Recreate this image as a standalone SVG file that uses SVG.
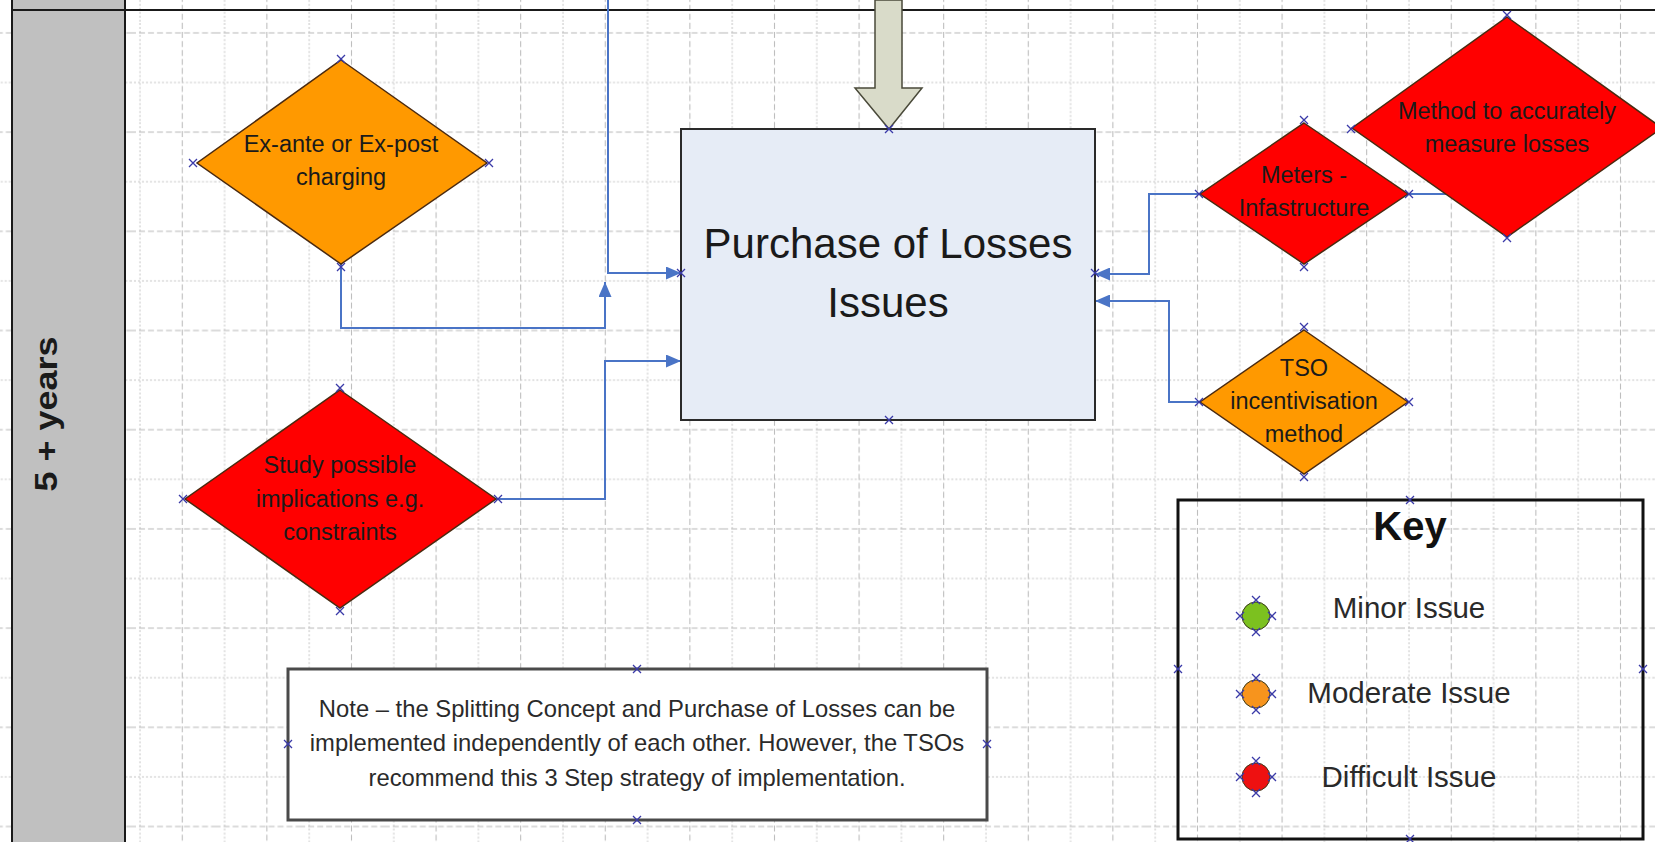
<svg xmlns="http://www.w3.org/2000/svg" xmlns:xlink="http://www.w3.org/1999/xlink" width="1655" height="842" viewBox="0 0 1655 842">
<style>
text{font-family:"Liberation Sans",Arial,sans-serif;}
.dt{font-size:23.5px;fill:#1a1a1a;text-anchor:middle;}
.nt{font-size:23.8px;fill:#2a2a2a;text-anchor:middle;}
.kt{font-size:29.5px;fill:#2a2a2a;text-anchor:middle;}
.dia{stroke:#4a2a10;stroke-width:1.5;}
.or{fill:#ff9900;}
.rd{fill:#ff0000;}
.con{fill:none;stroke:#4a74c6;stroke-width:2;}
.gx{fill:none;stroke:#3a3aa8;stroke-width:1.3;}
</style>
<defs>
<pattern id="grid" patternUnits="userSpaceOnUse" x="130" y="23" width="84.6" height="99.2">
<line x1="10" y1="0" x2="10" y2="99.2" stroke="#c4c4c4" stroke-width="1" stroke-dasharray="2 2"/>
<line x1="52.3" y1="0" x2="52.3" y2="99.2" stroke="#b8b8b8" stroke-width="1" stroke-dasharray="6 3"/>
<line x1="0" y1="10" x2="84.6" y2="10" stroke="#b8b8b8" stroke-width="1" stroke-dasharray="6 3"/>
<line x1="0" y1="59.6" x2="84.6" y2="59.6" stroke="#c4c4c4" stroke-width="1" stroke-dasharray="2 2"/>
</pattern>
<marker id="ah" markerUnits="userSpaceOnUse" markerWidth="15" markerHeight="13" refX="15" refY="6.5" orient="auto">
<path d="M0,0 L15,6.5 L0,13 z" fill="#4a74c6"/>
</marker>
<path id="x" d="M-4,-4 L4,4 M-4,4 L4,-4" class="gx"/>
</defs>
<rect width="1655" height="842" fill="#ffffff"/>
<rect width="1655" height="842" fill="url(#grid)"/>

<g id="lane">
<rect x="12" y="-5" width="113" height="852" fill="#c0c0c0" stroke="#1a1a1a" stroke-width="2"/>
<line x1="12" y1="10" x2="1655" y2="10" stroke="#1a1a1a" stroke-width="2"/>
<text transform="translate(57,414) rotate(-90)" text-anchor="middle" font-size="31" font-weight="bold" fill="#1a1a1a" textLength="155" lengthAdjust="spacingAndGlyphs">5 + years</text>
</g>

<g id="connectors">
<path class="con" d="M608,0 V273 H681" marker-end="url(#ah)"/>
<path class="con" d="M341,263 V328 H605 V282" marker-end="url(#ah)"/>
<path class="con" d="M496,499 H605 V361 H681" marker-end="url(#ah)"/>
<path class="con" d="M1200,194 H1149 V274 H1095" marker-end="url(#ah)"/>
<path class="con" d="M1200,402 H1169 V301 H1095" marker-end="url(#ah)"/>
<path class="con" d="M1408,194 H1446"/>
</g>

<g id="big-arrow">
<polygon points="875,0 902,0 902,88 922,88 889,129 855,88 875,88" fill="#d9dbc9" stroke="#4a4a3a" stroke-width="1.5"/>
</g>

<g id="purchase">
<rect x="681" y="129" width="414" height="291" fill="#e6ecf6" stroke="#2a2a2a" stroke-width="2"/>
<text x="888" y="258" text-anchor="middle" font-size="42" fill="#1a1a1a">Purchase of Losses</text>
<text x="888" y="317" text-anchor="middle" font-size="42" fill="#1a1a1a">Issues</text>
<use xlink:href="#x" x="889" y="129"/><use xlink:href="#x" x="889" y="420"/>
<use xlink:href="#x" x="681" y="273"/><use xlink:href="#x" x="1095" y="273"/>
</g>

<g id="exante">
<polygon class="dia or" points="341,60 487,163 341,264 197,163"/>
<text class="dt" x="341" y="152">Ex-ante or Ex-post</text>
<text class="dt" x="341" y="185">charging</text>
<use xlink:href="#x" x="341" y="59"/><use xlink:href="#x" x="193" y="163"/>
<use xlink:href="#x" x="489" y="163"/><use xlink:href="#x" x="341" y="267"/>
</g>

<g id="study">
<polygon class="dia rd" points="340,390 496,499 340,608 185,499"/>
<text class="dt" x="340" y="473">Study possible</text>
<text class="dt" x="340" y="507">implications e.g.</text>
<text class="dt" x="340" y="540">constraints</text>
<use xlink:href="#x" x="340" y="388"/><use xlink:href="#x" x="183" y="499"/>
<use xlink:href="#x" x="498" y="499"/><use xlink:href="#x" x="340" y="611"/>
</g>

<g id="meters">
<polygon class="dia rd" points="1304,123 1408,194 1304,264 1200,194"/>
<text class="dt" x="1304" y="183">Meters -</text>
<text class="dt" x="1304" y="216">Infastructure</text>
<use xlink:href="#x" x="1304" y="120"/><use xlink:href="#x" x="1199" y="194"/>
<use xlink:href="#x" x="1409" y="194"/><use xlink:href="#x" x="1304" y="267"/>
</g>

<g id="method">
<polygon class="dia rd" points="1507,17 1662,128 1507,237 1352,128"/>
<text class="dt" x="1507" y="119">Method to accurately</text>
<text class="dt" x="1507" y="152">measure losses</text>
<use xlink:href="#x" x="1507" y="15"/><use xlink:href="#x" x="1351" y="129"/>
<use xlink:href="#x" x="1507" y="238"/>
</g>

<g id="tso">
<polygon class="dia or" points="1304,330 1408,402 1304,474 1200,402"/>
<text class="dt" x="1304" y="376">TSO</text>
<text class="dt" x="1304" y="409">incentivisation</text>
<text class="dt" x="1304" y="442">method</text>
<use xlink:href="#x" x="1304" y="327"/><use xlink:href="#x" x="1199" y="402"/>
<use xlink:href="#x" x="1409" y="402"/><use xlink:href="#x" x="1304" y="477"/>
</g>

<g id="note">
<rect x="288" y="669" width="699" height="151" fill="#ffffff" stroke="#4a4a4a" stroke-width="3"/>
<text class="nt" x="637" y="717">Note – the Splitting Concept and Purchase of Losses can be</text>
<text class="nt" x="637" y="751">implemented independently of each other. However, the TSOs</text>
<text class="nt" x="637" y="786">recommend this 3 Step strategy of implementation.</text>
<use xlink:href="#x" x="637" y="669"/><use xlink:href="#x" x="637" y="820"/>
<use xlink:href="#x" x="288" y="744"/><use xlink:href="#x" x="987" y="744"/>
</g>

<g id="key">
<rect x="1178" y="500" width="465" height="339" fill="none" stroke="#111111" stroke-width="3"/>
<text x="1410" y="540" text-anchor="middle" font-size="40" font-weight="bold" fill="#111111">Key</text>
<circle cx="1256" cy="616" r="14" fill="#7cc11f" stroke="#3a3a1a" stroke-width="1"/>
<circle cx="1256" cy="694" r="14" fill="#f7941d" stroke="#3a3a1a" stroke-width="1"/>
<circle cx="1256" cy="777" r="14" fill="#ee1111" stroke="#3a3a1a" stroke-width="1"/>
<text class="kt" x="1409" y="618">Minor Issue</text>
<text class="kt" x="1409" y="703">Moderate Issue</text>
<text class="kt" x="1409" y="787">Difficult Issue</text>
<use xlink:href="#x" x="1256" y="600"/><use xlink:href="#x" x="1256" y="632"/>
<use xlink:href="#x" x="1240" y="616"/><use xlink:href="#x" x="1272" y="616"/>
<use xlink:href="#x" x="1256" y="678"/><use xlink:href="#x" x="1256" y="710"/>
<use xlink:href="#x" x="1240" y="694"/><use xlink:href="#x" x="1272" y="694"/>
<use xlink:href="#x" x="1256" y="761"/><use xlink:href="#x" x="1256" y="793"/>
<use xlink:href="#x" x="1240" y="777"/><use xlink:href="#x" x="1272" y="777"/>
<use xlink:href="#x" x="1410" y="500"/><use xlink:href="#x" x="1410" y="839"/>
<use xlink:href="#x" x="1178" y="669"/><use xlink:href="#x" x="1643" y="669"/>
</g>
</svg>
